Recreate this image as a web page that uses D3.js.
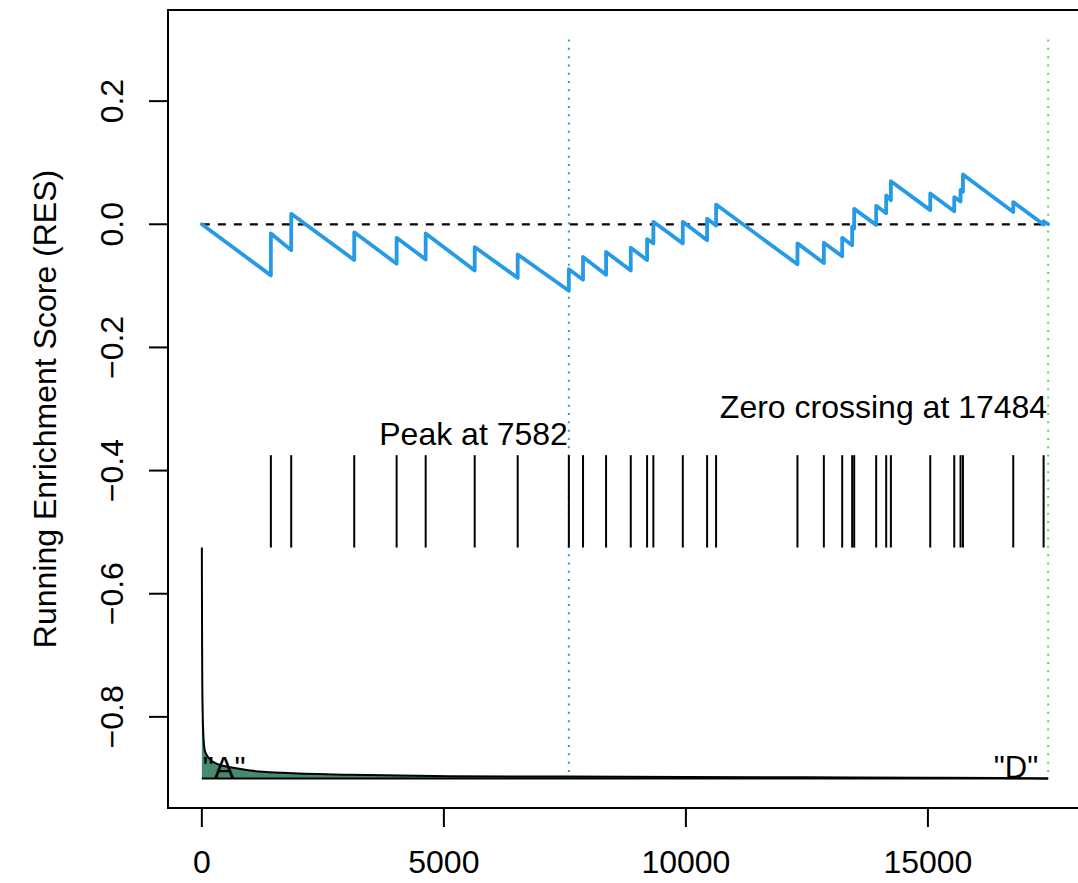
<!DOCTYPE html>
<html>
<head>
<meta charset="utf-8">
<script src="https://cdn.jsdelivr.net/npm/d3@7"></script>
<style>
  body { margin: 0; background: #fff; }
  svg { display: block; font-family: "Liberation Sans", Arial, sans-serif; }
</style>
</head>
<body>
<svg width="1078" height="883"></svg>
<script>
// ranks of the gene set members in the ranked list
const hitRanks = [1426, 1846, 3148, 4024, 4624, 5637, 6525, 7582, 7875, 8351,
    8861, 9198, 9328, 9936, 10438, 10624, 12305, 12850, 13229, 13435,
    13477, 13931, 14138, 14235, 15048, 15544, 15674, 15724, 16763, 17390];
// running score just before and just after each hit
const esBefore = [-0.083, -0.042, -0.058, -0.064, -0.057, -0.075, -0.087, -0.108, -0.090, -0.082,
    -0.075, -0.058, -0.031, -0.031, -0.026, -0.002, -0.065, -0.063, -0.052, -0.034,
    -0.007, -0.001, 0.018, 0.039, 0.023, 0.021, 0.037, 0.053, 0.020, -0.0005];
const esAfter = [-0.015, 0.017, -0.013, -0.022, -0.015, -0.037, -0.049, -0.073, -0.053, -0.045,
    -0.038, -0.024, 0.004, 0.004, 0.009, 0.032, -0.031, -0.030, -0.022, -0.004,
    0.025, 0.030, 0.047, 0.070, 0.050, 0.044, 0.056, 0.081, 0.036, 0.005];
const nGenes = 17484;
const peakRank = 7582;
const zeroCross = 17484;

// ranked metric, drawn on top of the -0.9 baseline
const metricRanks = [0, 2, 5, 10, 18, 27, 62, 130, 304, 647, 992, 1680, 3059, 5126,
    7500, 10000, 12500, 15000, 16500, 17484];
const metricHeights = [0.375, 0.30, 0.22, 0.15, 0.105, 0.078, 0.045, 0.0345, 0.024, 0.0173,
    0.013, 0.0092, 0.006, 0.0037, 0.003, 0.0024, 0.0018, 0.0012, 0.0007, 0];

const xTicks = [0, 5000, 10000, 15000];
const yTicks = [0.2, 0.0, -0.2, -0.4, -0.6, -0.8];

const svg = d3.select("svg");
const box = {left: 168, right: 1082, top: 10, bottom: 808};

const x = d3.scaleLinear()
    .domain([-0.04 * nGenes, nGenes * 1.04])
    .range([box.left, box.right]);
const y = d3.scaleLinear()
    .domain([-0.948, 0.348])
    .range([box.bottom, box.top]);

const fontSize = "32px";

// zero line
svg.append("line")
    .attr("x1", x(0)).attr("x2", x(nGenes))
    .attr("y1", y(0)).attr("y2", y(0))
    .attr("stroke", "#000").attr("stroke-width", 2.2)
    .attr("stroke-dasharray", "8,8");

// peak and zero crossing markers
svg.append("line")
    .attr("x1", x(peakRank)).attr("x2", x(peakRank))
    .attr("y1", y(0.3)).attr("y2", y(-0.9))
    .attr("stroke", "#259ae6").attr("stroke-width", 2)
    .attr("stroke-dasharray", "2,6.3");
svg.append("line")
    .attr("x1", x(zeroCross)).attr("x2", x(zeroCross))
    .attr("y1", y(0.3)).attr("y2", y(-0.9))
    .attr("stroke", "#62d35a").attr("stroke-width", 2)
    .attr("stroke-dasharray", "2,6.3");

// running enrichment score
const esPoints = [[0, 0]];
hitRanks.forEach((r, i) => {
    esPoints.push([r, esBefore[i]]);
    esPoints.push([r, esAfter[i]]);
});
esPoints.push([nGenes, 0]);

svg.append("path")
    .attr("d", d3.line().x(d => x(d[0])).y(d => y(d[1]))(esPoints))
    .attr("fill", "none")
    .attr("stroke", "#259ae6")
    .attr("stroke-width", 3.8)
    .attr("stroke-linejoin", "round")
    .attr("stroke-linecap", "round");

// hit bars
svg.selectAll("line.hit")
    .data(hitRanks)
    .enter()
    .append("line")
    .attr("class", "hit")
    .attr("x1", d => x(d)).attr("x2", d => x(d))
    .attr("y1", y(-0.375)).attr("y2", y(-0.525))
    .attr("stroke", "#000").attr("stroke-width", 2);

// ranked metric area
const metric = metricRanks.map((r, i) => [r, metricHeights[i]]);
svg.append("path")
    .attr("d", d3.area()
        .x(d => x(d[0]))
        .y0(y(-0.9))
        .y1(d => y(-0.9 + d[1]))
        .curve(d3.curveMonotoneX)(metric))
    .attr("fill", "#458b6e");
svg.append("path")
    .attr("d", d3.line()
        .x(d => x(d[0]))
        .y(d => y(-0.9 + d[1]))
        .curve(d3.curveMonotoneX)(metric))
    .attr("fill", "none").attr("stroke", "#000").attr("stroke-width", 2);
svg.append("line")
    .attr("x1", x(0)).attr("x2", x(nGenes))
    .attr("y1", y(-0.9)).attr("y2", y(-0.9))
    .attr("stroke", "#000").attr("stroke-width", 2);

// annotations
svg.append("text")
    .attr("x", x(peakRank) - 1).attr("y", 445)
    .attr("text-anchor", "end").attr("font-size", fontSize)
    .text("Peak at " + peakRank);
svg.append("text")
    .attr("x", x(zeroCross) - 1).attr("y", 418)
    .attr("text-anchor", "end").attr("font-size", fontSize)
    .text("Zero crossing at " + zeroCross);
svg.append("text")
    .attr("x", x(0) + 1).attr("y", 779)
    .attr("font-size", "31px")
    .text('"A"');
svg.append("text")
    .attr("x", x(nGenes) - 10).attr("y", 778)
    .attr("text-anchor", "end").attr("font-size", "31px")
    .text('"D"');

// box
svg.append("rect")
    .attr("x", box.left).attr("y", box.top)
    .attr("width", box.right - box.left).attr("height", box.bottom - box.top)
    .attr("fill", "none").attr("stroke", "#000").attr("stroke-width", 2);

// x axis (R style)
const xAxis = svg.append("g");
xAxis.selectAll("line")
    .data(xTicks).enter().append("line")
    .attr("x1", d => x(d)).attr("x2", d => x(d))
    .attr("y1", box.bottom).attr("y2", box.bottom + 19)
    .attr("stroke", "#000").attr("stroke-width", 2);
xAxis.selectAll("text")
    .data(xTicks).enter().append("text")
    .attr("x", d => x(d)).attr("y", 873)
    .attr("text-anchor", "middle").attr("font-size", fontSize)
    .text(d => d);

// y axis (R style, labels parallel to axis)
const yAxis = svg.append("g");
yAxis.append("line")
    .attr("x1", box.left).attr("x2", box.left)
    .attr("y1", y(0.2)).attr("y2", y(-0.8))
    .attr("stroke", "#000").attr("stroke-width", 2);
yAxis.selectAll("line.tk")
    .data(yTicks).enter().append("line")
    .attr("class", "tk")
    .attr("x1", box.left - 19).attr("x2", box.left)
    .attr("y1", d => y(d)).attr("y2", d => y(d))
    .attr("stroke", "#000").attr("stroke-width", 2);
yAxis.selectAll("text")
    .data(yTicks).enter().append("text")
    .attr("transform", d => `translate(123, ${y(d)}) rotate(-90)`)
    .attr("text-anchor", "middle").attr("font-size", fontSize)
    .text(d => d3.format(".1f")(d).replace("-", "\u2212"));

svg.append("text")
    .attr("transform", `translate(56, ${(box.top + box.bottom) / 2}) rotate(-90)`)
    .attr("text-anchor", "middle").attr("font-size", fontSize)
    .text("Running Enrichment Score (RES)");
</script>
</body>
</html>
